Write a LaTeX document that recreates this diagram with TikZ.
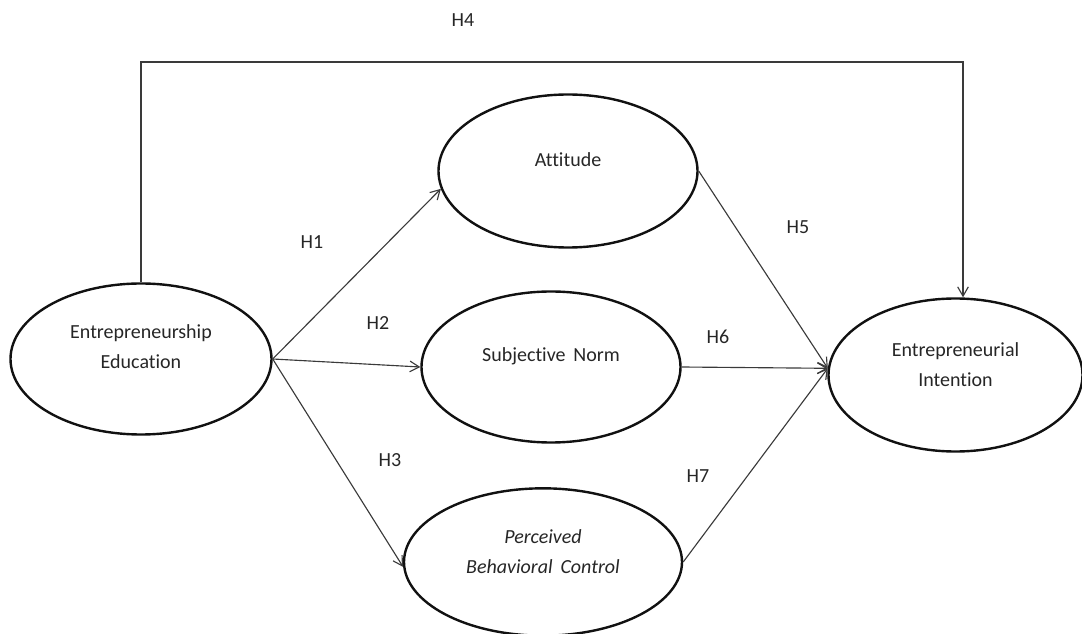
\documentclass[tikz,border=0pt]{standalone}
\usepackage{fontspec}
\setmainfont{Carlito}[Ligatures=NoCommon]
\usetikzlibrary{shapes.geometric,arrows.meta}
\definecolor{ink}{HTML}{111111}
\definecolor{txt}{HTML}{262626}
\definecolor{arr}{HTML}{3A3A3A}
\begin{document}
\begin{tikzpicture}[x=0.75pt,y=-0.75pt,
  every node/.style={font=\fontsize{15}{22.5}\selectfont, text=txt},
  construct/.style={ellipse, draw=ink, line width=1.8pt, inner sep=0pt},
  lbl/.style={align=center, inner sep=0pt},
  hyp/.style={inner sep=0pt},
  path/.style={draw=arr, line width=0.85pt, -{Straight Barb[length=7pt,width=8pt,line width=0.85pt]}}
]
\useasboundingbox (0,0) rectangle (1082,634);

% ellipses
\node[construct, minimum width=195.75pt, minimum height=113.25pt] (ee) at (141,359) {};
\node[construct, minimum width=194.25pt, minimum height=114.75pt] (att) at (568,171) {};
\node[construct, minimum width=194.25pt, minimum height=113.25pt] (sn) at (551,367) {};
\node[construct, minimum width=208.5pt, minimum height=110.5pt] (pbc) at (543,562) {};
\node[construct, minimum width=190.5pt, minimum height=114.75pt] (ei) at (955.5,375) {};

% texts
\node[lbl] (eeT) at (141,347) {Entrepreneurship\\Education};
\node[lbl] (attT) at (568,160) {Attitude};
\node[lbl] (snT) at (551,356) {Subjective\, Norm};
\node[lbl] (pbcT) at (543,552) {\itshape Perceived\\\itshape Behavioral\, Control};
\node[lbl] (eiT) at (955.5,365) {Entrepreneurial\\Intention};

% hypothesis labels
\node[hyp] (h1) at (312,242) {H1};
\node[hyp] (h2) at (378,323) {H2};
\node[hyp] (h3) at (390,460) {H3};
\node[hyp] (h4) at (463,20) {H4};
\node[hyp] (h5) at (798,227) {H5};
\node[hyp] (h6) at (718,337) {H6};
\node[hyp] (h7) at (698,476) {H7};

% connectors
\coordinate (top) at (963,62);
\draw[path] (ee.east) -- (att.188);
\draw[path] (ee.east) -- (sn.west);
\draw[path] (ee.east) -- (pbc.182);
\draw[path] (att.east) -- (ei.177);
\draw[path] (sn.east) -- (ei.177);
\draw[path] (pbc.east) -- (ei.177);
\draw[path] (ee.north) -- (ee.north |- top) -- (top) -- (top |- ei.north);
\end{tikzpicture}
\end{document}
